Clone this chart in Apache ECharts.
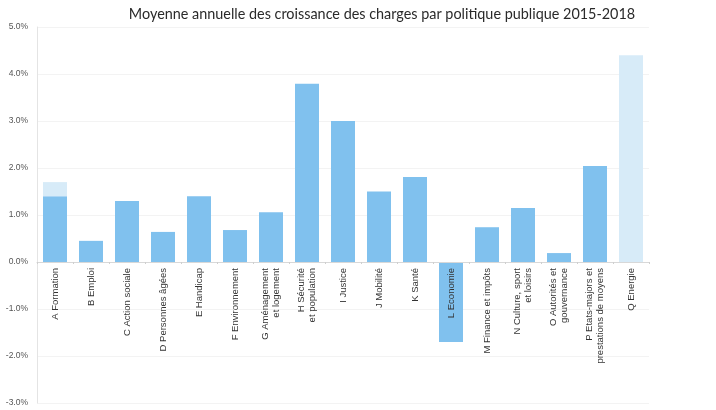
<!DOCTYPE html>
<html>
<head>
<meta charset="utf-8">
<script src="https://cdn.jsdelivr.net/npm/echarts@6/dist/echarts.min.js"></script>
<style>
  html, body { margin: 0; padding: 0; background: #fff; }
  #chart { width: 716px; height: 410px; }
</style>
</head>
<body>
<div id="chart"></div>
<script>
// catégories (axe X)
const categories = [
  'A Formation', 'B Emploi', 'C Action sociale', 'D Personnes âgées', 'E Handicap',
  'F Environnement', 'G Aménagement\net logement', 'H Sécurité\net population', 'I Justice',
  'J Mobilité', 'K Santé', 'L Economie', 'M Finance et impôts', 'N Culture, sport\net loisirs',
  'O Autorités et\ngouvernance', 'P Etats-majors et\nprestations de moyens', 'Q Energie'
];
// partie foncée des barres (en %)
const baseValues = [1.4, 0.45, 1.3, 0.64, 1.4, 0.68, 1.06, 3.79, 3.0, 1.5, 1.81, -1.7, 0.74, 1.15, 0.19, 2.04, 0];
// partie claire (complément)
const extraValues = [0.3, 0, 0, 0, 0, 0, 0, 0, 0, 0, 0, 0, 0, 0, 0, 0, 4.4];
// graduations de l'axe Y
const yMin = -3, yMax = 5, yStep = 1;

const chart = echarts.init(document.getElementById('chart'), null, { renderer: 'canvas' });

// position du zéro : l'axe X est remonté à 0 % (labels compris)
const gridTop = 27, gridBottom = 7, gridHeight = 410 - gridTop - gridBottom;
const zeroOffset = -gridHeight * (0 - yMin) / (yMax - yMin);

const option = {
  animation: false,
  title: {
    text: 'Moyenne annuelle des croissance des charges par politique publique 2015-2018',
    left: 377,
    textAlign: 'center',
    top: 2,
    textStyle: { fontFamily: 'Lato', fontSize: 14.4, fontWeight: 'normal', color: '#2a2a2a' }
  },
  grid: { left: 37, right: 67, top: gridTop, bottom: gridBottom, outerBoundsMode: 'none' },
  xAxis: {
    type: 'category',
    data: categories,
    z: 10,
    offset: zeroOffset,
    axisLine: { onZero: false, lineStyle: { color: '#d8d8d8' } },
    axisTick: { show: true, length: 2, lineStyle: { color: '#cfcfcf' } },
    axisLabel: {
      interval: 0,
      rotate: 90,
      margin: 6,
      fontFamily: 'Liberation Sans',
      fontSize: 9.5,
      lineHeight: 11,
      color: '#333'
    },
    splitLine: { show: false }
  },
  yAxis: {
    type: 'value',
    min: yMin,
    max: yMax,
    interval: yStep,
    axisLine: { show: true, lineStyle: { color: '#e4e4e4' } },
    axisTick: { show: false },
    axisLabel: {
      formatter: v => v.toFixed(1) + '%',
      fontFamily: 'Liberation Sans',
      fontSize: 8.5,
      color: '#555',
      margin: 9
    },
    splitLine: { show: true, lineStyle: { color: '#f3f3f3' } }
  },
  series: [
    {
      name: 'base',
      type: 'bar',
      stack: 'total',
      data: baseValues,
      barWidth: 24,
      itemStyle: { color: '#80c1ee' }
    },
    {
      name: 'extra',
      type: 'bar',
      stack: 'total',
      data: extraValues,
      barWidth: 24,
      itemStyle: { color: '#d7ebf8' }
    }
  ]
};

chart.setOption(option);
</script>
</body>
</html>
